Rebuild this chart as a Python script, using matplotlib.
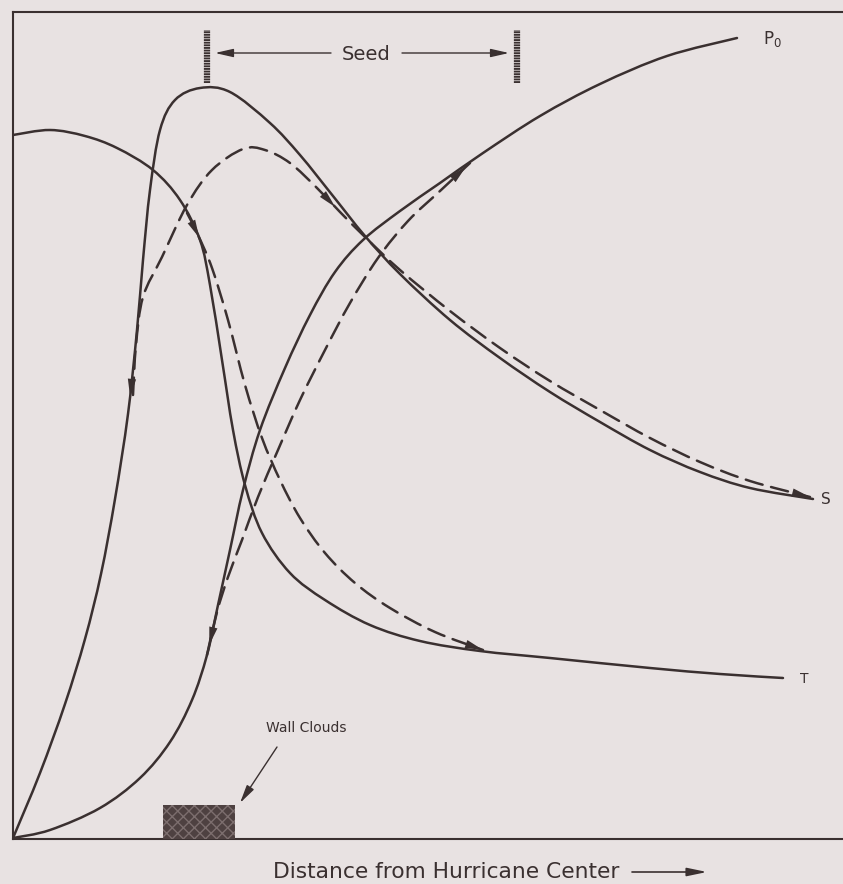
import numpy as np
import matplotlib
matplotlib.use("Agg")
import matplotlib.pyplot as plt
from matplotlib.patches import Rectangle, PathPatch
from matplotlib.path import Path

plt.rcParams['font.family'] = ['DejaVu Sans']
plt.rcParams['hatch.linewidth'] = 1.0

# distance from centre (arbitrary units) and magnitude (arbitrary units)
# S = wind speed, T = temperature, P0 = surface pressure; *_seed = after seeding
s_x = [0, 27, 52, 72, 88, 102, 115, 124, 130, 137, 147, 162, 187, 217, 257, 287, 320, 352,
       387, 437, 487, 537, 587, 637, 687, 737, 800]
s_y = [1, 66, 135, 200, 265, 340, 425, 509, 579, 649, 709, 739, 751, 747, 716, 684, 643, 603,
       565, 519, 481, 447, 417, 389, 367, 351, 340]

s_seed_x = [120, 123, 130, 149, 174, 199, 230, 252, 277, 304, 327, 352, 387, 437, 487, 537,
            587, 637, 687, 737, 797]
s_seed_y = [444, 494, 542, 582, 634, 669, 690, 689, 676, 651, 627, 602, 569, 528, 491, 458,
            429, 401, 377, 358, 342]

t_x = [0, 37, 72, 104, 140, 167, 187, 197, 209, 220, 232, 249, 277, 312, 357, 407, 467, 537,
       637, 707, 770]
t_y = [704, 709, 703, 691, 669, 639, 599, 554, 479, 409, 354, 306, 266, 239, 214, 198, 188,
       181, 171, 165, 161]

t_seed_x = [174, 185, 199, 215, 232, 249, 267, 287, 312, 342, 377, 422, 470]
t_seed_y = [626, 604, 571, 519, 454, 401, 359, 321, 286, 256, 231, 207, 189]

p_x = [0, 37, 87, 127, 157, 179, 194, 205, 217, 230, 247, 272, 297, 322, 350, 387, 427, 470,
       527, 587, 654, 724]
p_y = [1, 9, 31, 61, 97, 139, 184, 234, 289, 349, 409, 471, 524, 567, 599, 628, 656, 686,
       723, 755, 783, 801]

p_seed_x = [194, 204, 215, 229, 245, 265, 287, 312, 337, 365, 395, 427, 457]
p_seed_y = [184, 227, 262, 299, 342, 389, 439, 489, 536, 581, 618, 648, 676]

seed_start, seed_end = 194, 504
wall_start, wall_end = 150, 222

ink = '#3a3030'
paper = '#e8e2e2'


def controls(xs, ys):
    # Catmull-Rom through the points, as cubic Bezier control points
    p = np.column_stack([xs, ys]).astype(float)
    ext = np.vstack([p[0], p, p[-1]])
    c1 = p[:-1] + (ext[2:-1] - ext[:-3]) / 6
    c2 = p[1:] - (ext[3:] - ext[1:-2]) / 6
    return p, c1, c2


def smooth_path(xs, ys):
    p, c1, c2 = controls(xs, ys)
    verts = [p[0]]
    codes = [Path.MOVETO]
    for i in range(len(p) - 1):
        verts += [c1[i], c2[i], p[i + 1]]
        codes += [Path.CURVE4] * 3
    return Path(verts, codes)


def point_at(xs, ys, t):
    p, c1, c2 = controls(xs, ys)
    i = min(int(t), len(p) - 2)
    u = t - i
    return tuple((1 - u) ** 3 * p[i] + 3 * (1 - u) ** 2 * u * c1[i]
                 + 3 * (1 - u) * u ** 2 * c2[i] + u ** 3 * p[i + 1])


fig = plt.figure(figsize=(8.43, 8.84), dpi=100, facecolor=paper)
ax = fig.add_axes([13 / 843, 45 / 884, 830 / 843, 827 / 884])
ax.set_facecolor(paper)
ax.set_xlim(0, 830)
ax.set_ylim(0, 827)
ax.set_xticks([])
ax.set_yticks([])
ax.spines['right'].set_visible(False)
for side in ['left', 'top', 'bottom']:
    ax.spines[side].set_color(ink)
    ax.spines[side].set_linewidth(1.5)

lw = 1.8
dashed = (0, (7, 3.5))
for xs, ys, style in [(s_x, s_y, '-'), (t_x, t_y, '-'), (p_x, p_y, '-'),
                      (s_seed_x, s_seed_y, dashed),
                      (t_seed_x, t_seed_y, dashed),
                      (p_seed_x, p_seed_y, dashed)]:
    ax.add_patch(PathPatch(smooth_path(xs, ys), fill=False, edgecolor=ink, lw=lw,
                           linestyle=style, capstyle='round'))


def mark_arrow(xs, ys, tail, tip):
    ax.annotate('', xy=point_at(xs, ys, tip), xytext=point_at(xs, ys, tail),
                arrowprops=dict(arrowstyle='-|>,head_length=1.3,head_width=0.3',
                                color=ink, lw=0, shrinkA=0, shrinkB=0))


mark_arrow(s_x, s_y, 6.8, 6.2)
mark_arrow(t_seed_x, t_seed_y, 0.5, 1.1)
mark_arrow(s_seed_x, s_seed_y, 9.2, 9.8)
mark_arrow(p_seed_x, p_seed_y, 11.2, 11.8)
mark_arrow(p_seed_x, p_seed_y, 1.0, 0.3)
mark_arrow(t_seed_x, t_seed_y, 11.5, 12.0)
mark_arrow(s_seed_x, s_seed_y, 19.5, 20.0)

# curve labels
ax.text(750, 800, 'P$_0$', fontsize=12, color=ink, ha='left', va='center')
ax.text(808, 339, 'S', fontsize=11, color=ink, ha='left', va='center')
ax.text(787, 160, 'T', fontsize=10, color=ink, ha='left', va='center')

# seeding zone
for xb in [seed_start, seed_end]:
    ax.plot([xb, xb], [756, 809], color=ink, lw=4.5, dashes=(0.3, 0.12),
            solid_capstyle='butt', dash_capstyle='butt')
ax.text((seed_start + seed_end) / 2 + 4, 785, 'Seed', fontsize=14, color=ink,
        ha='center', va='center')
ax.annotate('', xy=(seed_start + 8, 786), xytext=(318, 786),
            arrowprops=dict(arrowstyle='-|>,head_length=1.1,head_width=0.25',
                            color=ink, lw=1.0, shrinkA=0, shrinkB=0))
ax.annotate('', xy=(seed_end - 8, 786), xytext=(389, 786),
            arrowprops=dict(arrowstyle='-|>,head_length=1.1,head_width=0.25',
                            color=ink, lw=1.0, shrinkA=0, shrinkB=0))

# wall clouds
ax.add_patch(Rectangle((wall_start, 0), wall_end - wall_start, 34, facecolor='#4e4141',
                       edgecolor='#7c6e6e', lw=0, hatch='xxx', zorder=3))
ax.text(293, 111, 'Wall Clouds', fontsize=10, color=ink, ha='center', va='center')
ax.annotate('', xy=(227, 36), xytext=(264, 92),
            arrowprops=dict(arrowstyle='-|>,head_length=1.1,head_width=0.25',
                            color=ink, lw=1.0, shrinkA=0, shrinkB=0))

# axis caption
ax.text(433, -33, 'Distance from Hurricane Center', fontsize=15.7, color=ink,
        ha='center', va='center', clip_on=False)
ax.annotate('', xy=(694, -33), xytext=(619, -33), annotation_clip=False,
            arrowprops=dict(arrowstyle='-|>,head_length=1.2,head_width=0.25',
                            color=ink, lw=1.2, shrinkA=0, shrinkB=0))

fig.savefig('out.png', dpi=100, facecolor=paper)
